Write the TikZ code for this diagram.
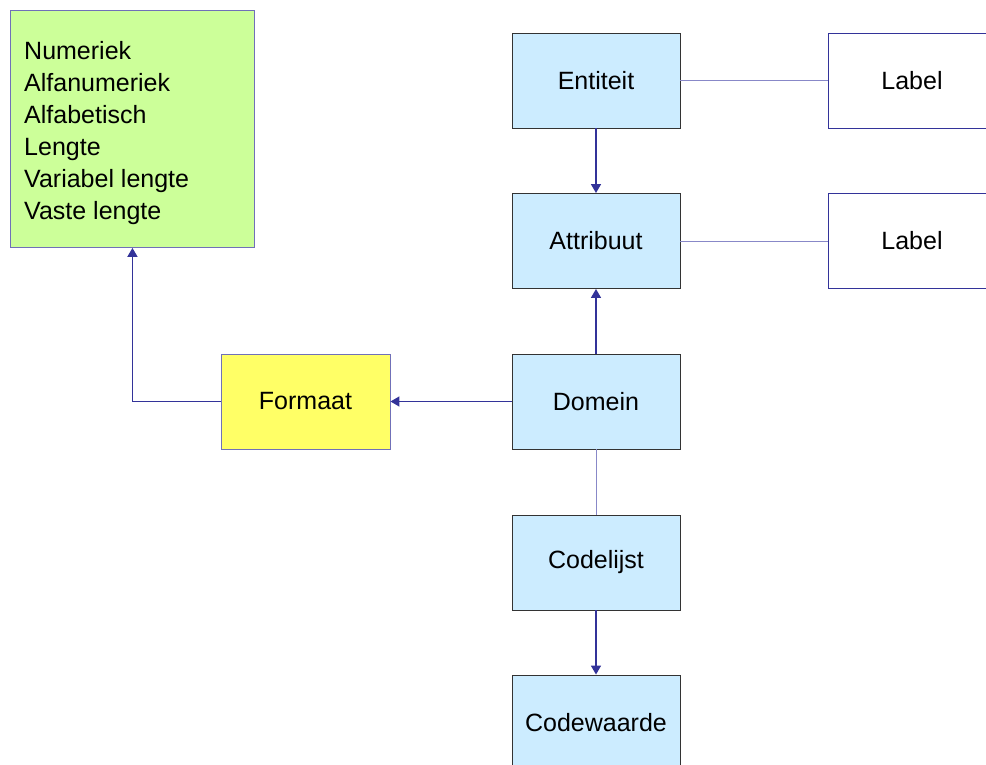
\documentclass[tikz,border=0pt]{standalone}
\usepackage{fontspec}
\setmainfont{Liberation Sans}
\usetikzlibrary{arrows.meta}
\definecolor{boxblue}{HTML}{CCECFF}
\definecolor{boxgreen}{HTML}{CCFF99}
\definecolor{boxyellow}{HTML}{FFFF66}
\definecolor{navy}{HTML}{333399}
\definecolor{lightnavy}{HTML}{8888C8}
\definecolor{darkborder}{HTML}{333333}
\begin{document}
\begin{tikzpicture}[x=1pt,y=-1pt,
  every node/.style={font=\fontsize{25}{32}\selectfont, inner sep=0pt},
  bluebox/.style={draw=darkborder, line width=0.9pt, fill=boxblue, minimum width=168pt, minimum height=95pt},
  labelbox/.style={draw=navy, line width=0.9pt, fill=white, minimum width=168pt, minimum height=95pt},
  yellowbox/.style={draw=navy!70, line width=0.9pt, fill=boxyellow, minimum width=169pt, minimum height=95pt},
  greenbox/.style={draw=navy!70, line width=0.9pt, fill=boxgreen, minimum width=244pt, minimum height=237pt},
  listtext/.style={align=left},
  arr/.style={draw=navy, line width=1.5pt, -{Triangle[length=9pt,width=10pt]}},
  plain/.style={draw=lightnavy, line width=1pt}]
\useasboundingbox (0,0) rectangle (986,765);
\node[greenbox, anchor=north west] (list) at (10,10) {};
\node[listtext, anchor=west] (listtxt) at ([xshift=14pt,yshift=-4pt]list.west) {Numeriek\\Alfanumeriek\\Alfabetisch\\Lengte\\Variabel lengte\\Vaste lengte};
\node[bluebox] (ent) at (596,80.5) {Entiteit};
\node[labelbox] (lab1) at (912,80.5) {Label};
\node[bluebox] (att) at (596,241) {Attribuut};
\node[labelbox] (lab2) at (912,241) {Label};
\node[bluebox] (dom) at (596,401.5) {Domein};
\node[yellowbox] (fmt) at (305.5,401.5) {Formaat};
\node[bluebox] (code) at (596,562.5) {Codelijst};
\node[bluebox] (cw) at (596,722.5) {Codewaarde};
\draw[plain] (ent) -- (lab1);
\draw[plain] (att) -- (lab2);
\draw[arr] (ent) -- (att);
\draw[arr] (dom) -- (att);
\draw[arr] (dom) -- (fmt);
\draw[arr] (fmt.west) -| (list.south);
\draw[plain] (dom) -- (code);
\draw[arr] (code) -- (cw);
\end{tikzpicture}
\end{document}
